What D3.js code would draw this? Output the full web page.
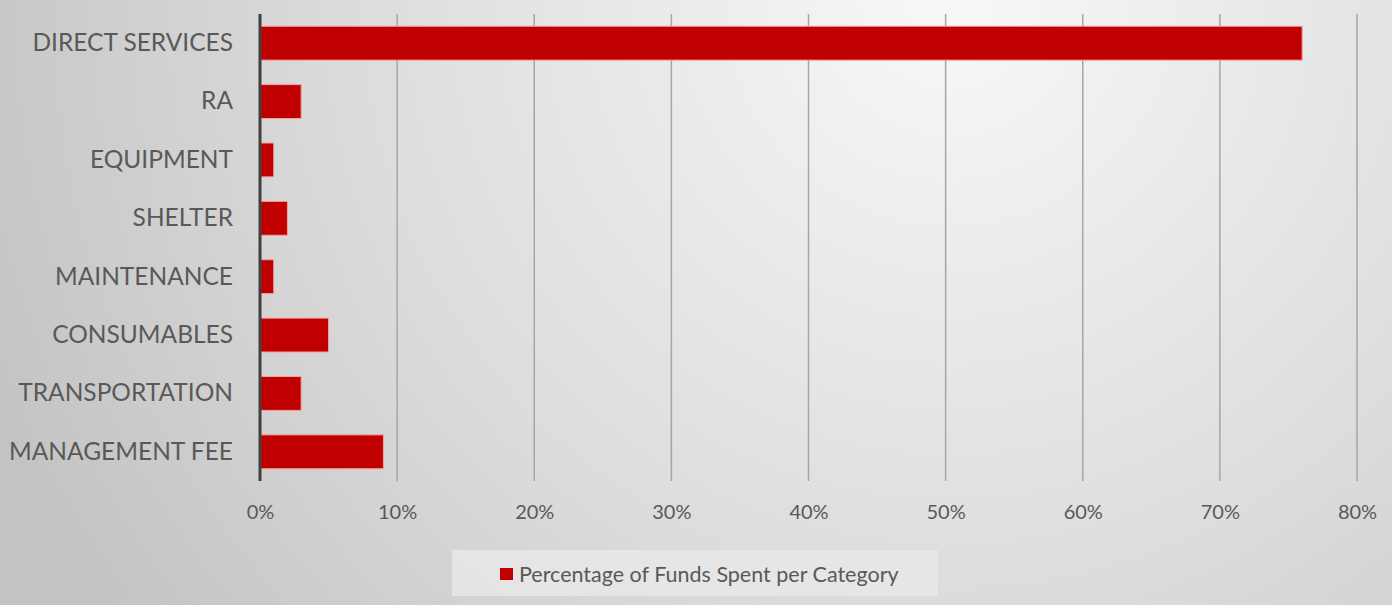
<!DOCTYPE html>
<html>
<head>
<meta charset="utf-8">
<script src="https://cdn.jsdelivr.net/npm/d3@7"></script>
<style>
  html, body { margin: 0; padding: 0; overflow: hidden; }
  text { font-family: Lato, "Open Sans", sans-serif; fill: #595959; }
</style>
</head>
<body>
<div id="chart"></div>
<script>
const categories = ['DIRECT SERVICES', 'RA', 'EQUIPMENT', 'SHELTER', 'MAINTENANCE', 'CONSUMABLES', 'TRANSPORTATION', 'MANAGEMENT FEE']
const values = [0.76, 0.03, 0.01, 0.02, 0.01, 0.05, 0.03, 0.09]
const xTicks = [0, 0.1, 0.2, 0.3, 0.4, 0.5, 0.6, 0.7, 0.8]
const seriesName = 'Percentage of Funds Spent per Category'

const W = 1392, H = 605
const margin = { top: 14, right: 35, bottom: 124, left: 260 }
const width = W - margin.left - margin.right
const height = H - margin.top - margin.bottom

const svg = d3.select('#chart').append('svg')
  .attr('width', W)
  .attr('height', H)

// background gradient
const defs = svg.append('defs')
const grad = defs.append('radialGradient')
  .attr('id', 'bg')
  .attr('gradientUnits', 'userSpaceOnUse')
  .attr('cx', 950).attr('cy', 0).attr('r', 1050)
grad.append('stop').attr('offset', '0%').attr('stop-color', '#f8f8f8')
grad.append('stop').attr('offset', '55%').attr('stop-color', '#dddddd')
grad.append('stop').attr('offset', '100%').attr('stop-color', '#c3c3c3')

svg.append('rect')
  .attr('width', W).attr('height', H)
  .attr('fill', 'url(#bg)')

const g = svg.append('g')
  .attr('transform', `translate(${margin.left},${margin.top})`)

const x = d3.scaleLinear()
  .domain([0, 0.8])
  .range([0, width])

const y = d3.scaleBand()
  .domain(categories)
  .range([0, height])
  .paddingInner(0.42)
  .paddingOuter(0.21)

// gridlines
g.selectAll('.grid')
  .data(xTicks.slice(1))
  .enter().append('line')
  .attr('class', 'grid')
  .attr('x1', d => x(d)).attr('x2', d => x(d))
  .attr('y1', 0).attr('y2', height)
  .attr('stroke', '#a6a6a6')
  .attr('stroke-width', 1.5)

// bars
g.selectAll('.bar')
  .data(values)
  .enter().append('rect')
  .attr('class', 'bar')
  .attr('x', x(0))
  .attr('y', (d, i) => y(categories[i]))
  .attr('width', d => x(d) - x(0))
  .attr('height', y.bandwidth())
  .attr('fill', '#c00000')
  .attr('stroke', '#f3a0a0')
  .attr('stroke-width', 1)

// x axis labels
const xAxis = d3.axisBottom(x)
  .tickValues(xTicks)
  .tickFormat(d3.format('.0%'))
  .tickSize(0)
  .tickPadding(24)

const xg = g.append('g')
  .attr('transform', `translate(0,${height})`)
  .call(xAxis)
xg.select('.domain').remove()
xg.selectAll('text')
  .attr('font-size', 20)
  .style('font-family', 'Lato, "Open Sans", sans-serif')
  .attr('fill', '#595959')

// y axis labels
const yAxis = d3.axisLeft(y).tickSize(0).tickPadding(27)
const yg = g.append('g').call(yAxis)
yg.select('.domain').remove()
yg.selectAll('text')
  .attr('font-size', 24.5)
  .style('font-family', 'Lato, "Open Sans", sans-serif')
  .attr('fill', '#595959')

// vertical axis line
g.append('line')
  .attr('x1', x(0)).attr('x2', x(0))
  .attr('y1', 0).attr('y2', height)
  .attr('stroke', '#404040')
  .attr('stroke-width', 3)

// legend
const legend = svg.append('g').attr('transform', 'translate(452,550)')
legend.append('rect')
  .attr('width', 486).attr('height', 46)
  .attr('fill', '#e8e8e8')
  .attr('opacity', 0.8)
legend.append('rect')
  .attr('x', 48).attr('y', 18)
  .attr('width', 13).attr('height', 12)
  .attr('fill', '#c00000')
legend.append('text')
  .attr('x', 67).attr('y', 32)
  .attr('font-size', 21.5)
  .text(seriesName)
</script>
</body>
</html>
